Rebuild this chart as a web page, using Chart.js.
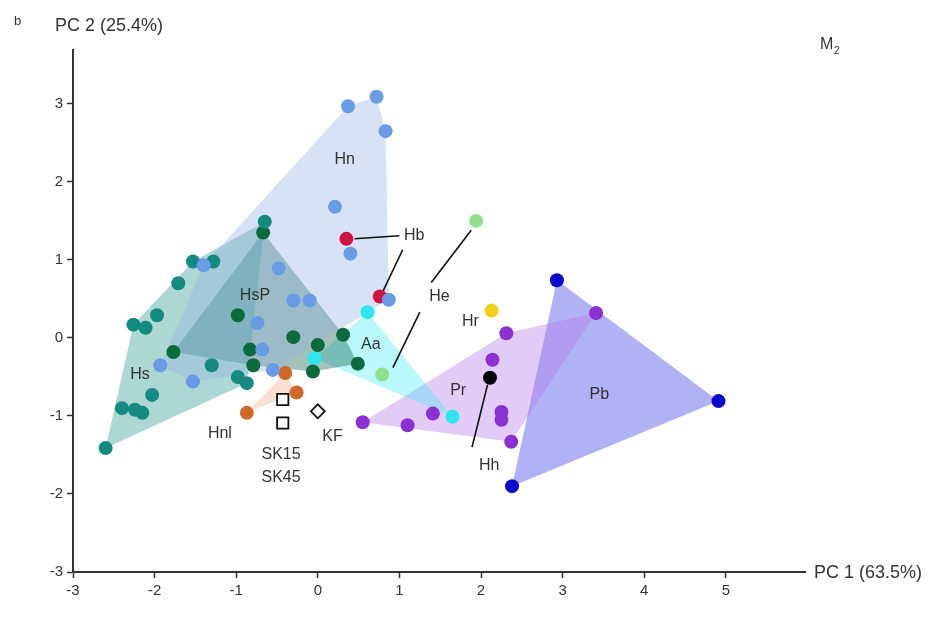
<!DOCTYPE html>
<html lang="en">
<head>
    <meta charset="UTF-8">
    <title>PCA M2</title>
    <script src="https://cdn.jsdelivr.net/npm/chart.js"></script>
    <style>
        html, body { margin: 0; padding: 0; background: #fff; }
        #wrap { width: 938px; height: 618px; position: relative; }
    </style>
</head>
<body>
    <div id="wrap"><canvas id="pcaChart"></canvas></div>

    <script>
        // axis ticks
        const xTicks = [-3, -2, -1, 0, 1, 2, 3, 4, 5];
        const yTicks = [-3, -2, -1, 0, 1, 2, 3];

        // sample scores (PC1, PC2) per group
        const hnPts = [[0.37, 2.97], [0.72, 3.09], [0.83, 2.65], [0.21, 1.68], [0.40, 1.08], [0.87, 0.49],
            [-0.48, 0.89], [-0.30, 0.48], [-0.10, 0.48], [-0.74, 0.19], [-1.93, -0.35], [-1.53, -0.56],
            [-0.55, -0.41], [-0.68, -0.15], [-1.40, 0.93]];
        const hsPts = [[-0.65, 1.49], [-1.53, 0.98], [-1.28, 0.98], [-1.71, 0.70], [-1.97, 0.29], [-2.26, 0.17],
            [-2.11, 0.13], [-1.30, -0.35], [-0.98, -0.50], [-0.87, -0.58], [-2.03, -0.73], [-2.40, -0.90],
            [-2.24, -0.92], [-2.15, -0.96], [-2.60, -1.41]];
        const hspPts = [[-0.67, 1.35], [-0.98, 0.29], [-1.77, -0.18], [-0.83, -0.15], [-0.30, 0.01],
            [0.00, -0.09], [0.31, 0.04], [-0.06, -0.43], [0.49, -0.33], [-0.79, -0.35]];
        const aaPts = [[0.61, 0.33], [-0.04, -0.26], [1.65, -1.01]];
        const hePts = [[1.94, 1.50], [0.79, -0.47]];
        const hbPts = [[0.35, 1.27], [0.76, 0.53]];
        const hnlPts = [[-0.40, -0.45], [-0.26, -0.70], [-0.87, -0.96]];
        const prPts = [[2.31, 0.06], [2.14, -0.28], [0.55, -1.08], [1.10, -1.12], [1.41, -0.97],
            [2.25, -0.95], [2.25, -1.05], [2.37, -1.33], [3.41, 0.32]];
        const hhPts = [[2.11, -0.51]];
        const hrPts = [[2.13, 0.35]];
        const pbPts = [[2.93, 0.74], [4.91, -0.81], [2.38, -1.90]];
        const skPts = [[-0.43, -0.79], [-0.43, -1.09]];
        const kfPts = [[0.00, -0.94]];

        // convex hull outlines (vertices taken from the points above)
        const hnHull = [[0.37, 2.97], [0.72, 3.09], [0.83, 2.65], [0.87, 0.49], [-0.55, -0.41], [-1.53, -0.56], [-1.93, -0.35], [-1.40, 0.93]];
        const hsHull = [[-2.60, -1.41], [-2.26, 0.17], [-1.53, 0.98], [-0.65, 1.49], [-0.87, -0.58]];
        const hspHull = [[-0.67, 1.35], [0.31, 0.04], [0.49, -0.33], [-0.06, -0.43], [-0.79, -0.35], [-1.77, -0.18]];
        const aaHull = [[0.61, 0.33], [1.65, -1.01], [-0.04, -0.26]];
        const hnlHull = [[-0.40, -0.45], [-0.26, -0.70], [-0.87, -0.96]];
        const prHull = [[0.55, -1.08], [2.31, 0.06], [3.41, 0.32], [2.37, -1.33]];
        const pbHull = [[2.93, 0.74], [4.91, -0.81], [2.38, -1.90]];

        // leader lines from labels to points
        const leaders = [
            [[0.45, 1.27], [1.00, 1.31]],
            [[1.04, 1.13], [0.79, 0.58]],
            [[1.88, 1.38], [1.39, 0.71]],
            [[1.25, 0.33], [0.92, -0.38]],
            [[2.08, -0.60], [1.89, -1.40]]
        ];

        // group labels
        const labelText = ['Hn', 'HsP', 'Hs', 'Aa', 'Pr', 'Pb', 'He', 'Hr', 'Hb', 'Hh', 'Hnl', 'SK15', 'SK45', 'KF'];
        const labelPos = [[0.33, 2.28], [-0.77, 0.54], [-2.18, -0.47], [0.65, -0.08], [1.72, -0.67], [3.45, -0.73],
            [1.49, 0.53], [1.87, 0.21], [1.18, 1.31], [2.10, -1.63], [-1.20, -1.22], [-0.45, -1.50], [-0.45, -1.79], [0.18, -1.27]];

        const xy = arr => arr.map(p => ({ x: p[0], y: p[1] }));
        const closed = arr => xy(arr.concat([arr[0]]));

        function pointSet(pts, color, extra) {
            return Object.assign({
                type: 'scatter', data: xy(pts), pointRadius: 7, pointHoverRadius: 7,
                backgroundColor: color, borderColor: color, borderWidth: 0, order: 0
            }, extra || {});
        }

        function hullSet(pts, fill) {
            return {
                type: 'line', data: closed(pts), fill: 'shape', backgroundColor: fill,
                borderWidth: 0, borderColor: 'rgba(0,0,0,0)', pointRadius: 0, tension: 0, order: 5
            };
        }

        const datasets = [
            hullSet(hnHull, 'rgba(150,180,230,0.38)'),
            hullSet(hsHull, 'rgba(40,150,140,0.38)'),
            hullSet(hspHull, 'rgba(20,100,80,0.40)'),
            hullSet(aaHull, 'rgba(60,235,245,0.35)'),
            hullSet(hnlHull, 'rgba(240,150,110,0.30)'),
            hullSet(prHull, 'rgba(180,120,235,0.38)'),
            hullSet(pbHull, 'rgba(100,100,235,0.50)'),
            pointSet(hnPts, '#6a9be6'),
            pointSet(hsPts, '#148a80'),
            pointSet(hspPts, '#0b6b3c'),
            pointSet(aaPts, '#2fe6f0'),
            pointSet(hePts, '#8fe08c'),
            pointSet(hbPts, '#d0123e'),
            pointSet(hnlPts, '#d0682a'),
            pointSet(prPts, '#8b30d2'),
            pointSet(hhPts, '#000000'),
            pointSet(hrPts, '#f0d21e'),
            pointSet(pbPts, '#0a0acc'),
            pointSet(skPts, '#ffffff', { pointStyle: 'rect', pointRadius: 8, borderColor: '#111', borderWidth: 1.8 }),
            pointSet(kfPts, '#ffffff', { pointStyle: 'rectRot', pointRadius: 7, borderColor: '#111', borderWidth: 1.8 })
        ];
        leaders.forEach(l => datasets.push({
            type: 'line', data: xy(l), borderColor: '#111', borderWidth: 1.6,
            pointRadius: 0, fill: false, order: 1
        }));

        const FONT = '"Liberation Sans", Arial, sans-serif';

        const textPlugin = {
            id: 'texts',
            afterDatasetsDraw(chart) {
                const { ctx, scales } = chart;
                ctx.save();
                ctx.fillStyle = '#333';
                ctx.font = '16px ' + FONT;
                ctx.textAlign = 'center';
                ctx.textBaseline = 'middle';
                labelText.forEach((t, i) => {
                    ctx.fillText(t, scales.x.getPixelForValue(labelPos[i][0]), scales.y.getPixelForValue(labelPos[i][1]));
                });
                // axis titles and panel marks
                ctx.textAlign = 'left';
                ctx.font = '18px ' + FONT;
                ctx.fillText('PC 2 (25.4%)', 55, 26);
                ctx.fillText('PC 1 (63.5%)', chart.chartArea.right + 9, chart.chartArea.bottom + 1);
                ctx.font = '13px ' + FONT;
                ctx.fillText('b', 14, 21);
                ctx.font = '16px ' + FONT;
                ctx.fillText('M', 820, 45);
                ctx.font = '10px ' + FONT;
                ctx.fillText('2', 834, 51);
                ctx.restore();
            }
        };

        new Chart(document.getElementById('pcaChart'), {
            type: 'scatter',
            data: { datasets },
            plugins: [textPlugin],
            options: {
                responsive: true,
                maintainAspectRatio: false,
                animation: false,
                layout: { padding: { left: 33, right: 133, top: 50, bottom: 6 } },
                plugins: { legend: { display: false }, tooltip: { enabled: false } },
                scales: {
                    x: {
                        type: 'linear', min: -3, max: 5.97,
                        afterFit: s => { s.height = 40; },
                        afterBuildTicks: s => { s.ticks = xTicks.map(v => ({ value: v })); },
                        grid: { drawOnChartArea: false, tickLength: 6, color: '#333', tickWidth: 1.5 },
                        border: { color: '#333', width: 2 },
                        ticks: { color: '#333', padding: 4, font: { size: 15, family: FONT } }
                    },
                    y: {
                        type: 'linear', min: -3, max: 3.69,
                        afterFit: s => { s.width = 40; },
                        afterBuildTicks: s => { s.ticks = yTicks.map(v => ({ value: v })); },
                        grid: { drawOnChartArea: false, tickLength: 6, color: '#333', tickWidth: 1.5 },
                        border: { color: '#333', width: 2 },
                        ticks: { color: '#333', padding: 4, font: { size: 15, family: FONT } }
                    }
                }
            }
        });
    </script>
</body>
</html>
